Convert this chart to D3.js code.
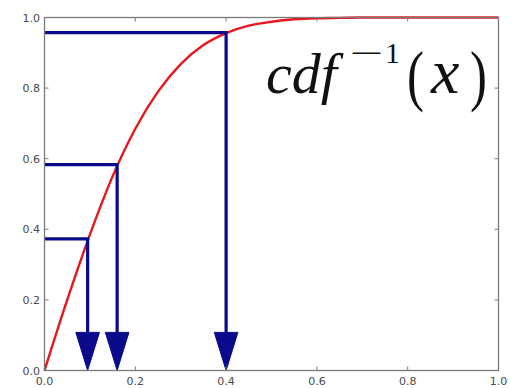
<!DOCTYPE html>
<html>
<head>
<meta charset="utf-8">
<script src="https://cdn.jsdelivr.net/npm/d3@7/dist/d3.min.js"></script>
<style>
  html, body { margin: 0; padding: 0; background: #fff; }
  svg { display: block; }
</style>
</head>
<body>
<svg id="chart" width="511" height="388"></svg>
<script>
// CDF curve samples
const cdfX = [0, 0.05, 0.10, 0.15, 0.20, 0.25, 0.30, 0.35, 0.40, 0.45, 0.50, 0.55, 0.60, 0.65, 0.70, 0.75, 0.80, 0.85, 0.90, 0.95, 1.0];
const cdfY = [0, 0.20, 0.385, 0.55, 0.685, 0.79, 0.868, 0.922, 0.956, 0.977, 0.988, 0.995, 0.998, 0.999, 1, 1, 1, 1, 1, 1, 1];

// Lookup points: probability level -> sample value
const lookupX = [0.095, 0.16, 0.40];
const lookupY = [0.373, 0.583, 0.957];

const tickValues = [0, 0.2, 0.4, 0.6, 0.8, 1.0];

const svg = d3.select("#chart");
const plotLeft = 44.5, plotRight = 498.5, plotTop = 17.5, plotBottom = 370.5;

const x = d3.scaleLinear().domain([0, 1]).range([plotLeft, plotRight]);
const y = d3.scaleLinear().domain([0, 1]).range([plotBottom, plotTop]);

const axisColor = "#7a7a7a";
const blue = "#0a0a8a";

// Curve
const line = d3.line()
  .x((d, i) => x(cdfX[i]))
  .y(d => y(d))
  .curve(d3.curveMonotoneX);

svg.append("path")
  .datum(cdfY)
  .attr("d", line)
  .attr("fill", "none")
  .attr("stroke", "#e8161b")
  .attr("stroke-width", 2.4);

// Lookup lines and arrows
const headW = 0.026;  // half width, x units
const headL = 0.108;  // length, y units
lookupX.forEach((vx, i) => {
  const vy = lookupY[i];
  const g = svg.append("g");
  g.append("path")
    .attr("d", `M${x(0)},${y(vy)}H${x(vx)}V${y(headL)}`)
    .attr("fill", "none")
    .attr("stroke", blue)
    .attr("stroke-width", 3.2)
    .attr("stroke-linejoin", "miter");
  g.append("path")
    .attr("d", `M${x(vx - headW)},${y(headL)}L${x(vx + headW)},${y(headL)}L${x(vx)},${y(0)}Z`)
    .attr("fill", blue)
    .attr("stroke", blue)
    .attr("stroke-width", 1);
});

// Frame
svg.append("rect")
  .attr("x", plotLeft).attr("y", plotTop)
  .attr("width", plotRight - plotLeft).attr("height", plotBottom - plotTop)
  .attr("fill", "none")
  .attr("stroke", axisColor)
  .attr("stroke-width", 1.3);

// Inward ticks on all four sides
const tickLen = 4;
const fmt = d3.format(".1f");
const ticksG = svg.append("g").attr("stroke", axisColor).attr("stroke-width", 1);
tickValues.forEach(t => {
  ticksG.append("line").attr("x1", x(t)).attr("x2", x(t)).attr("y1", plotBottom).attr("y2", plotBottom - tickLen);
  ticksG.append("line").attr("x1", x(t)).attr("x2", x(t)).attr("y1", plotTop).attr("y2", plotTop + tickLen);
  ticksG.append("line").attr("y1", y(t)).attr("y2", y(t)).attr("x1", plotLeft).attr("x2", plotLeft + tickLen);
  ticksG.append("line").attr("y1", y(t)).attr("y2", y(t)).attr("x1", plotRight).attr("x2", plotRight - tickLen);
});

const labelStyle = sel => sel
  .attr("font-family", "DejaVu Sans, sans-serif")
  .attr("font-size", 11)
  .attr("fill", "#4a4a4a");

svg.append("g").selectAll("text").data(tickValues).join("text")
  .call(labelStyle)
  .attr("x", d => x(d))
  .attr("y", 385)
  .attr("text-anchor", "middle")
  .text(d => fmt(d));

svg.append("g").selectAll("text").data(tickValues).join("text")
  .call(labelStyle)
  .attr("x", 40)
  .attr("y", d => y(d) + 4)
  .attr("text-anchor", "end")
  .text(d => fmt(d));

// Formula label: cdf^{-1}(x)
const f = svg.append("g")
  .attr("font-family", "Liberation Serif, Times New Roman, serif")
  .attr("fill", "#111");
f.append("text").attr("x", 266).attr("y", 93)
  .attr("font-size", 58).attr("font-style", "italic").text("cdf");
// wide math minus
f.append("text").attr("transform", "translate(350,63) scale(2,1)")
  .attr("font-size", 30).text("\u2212");
f.append("text").attr("x", 385).attr("y", 63)
  .attr("font-size", 30).text("1");
// tall, thin delimiters
f.append("text").attr("transform", "translate(407,98) scale(0.85,1.12)")
  .attr("font-size", 60).text("(");
f.append("text").attr("x", 431).attr("y", 93)
  .attr("font-size", 64).attr("font-style", "italic").text("x");
f.append("text").attr("transform", "translate(470,98) scale(0.85,1.12)")
  .attr("font-size", 60).text(")");
</script>
</body>
</html>
